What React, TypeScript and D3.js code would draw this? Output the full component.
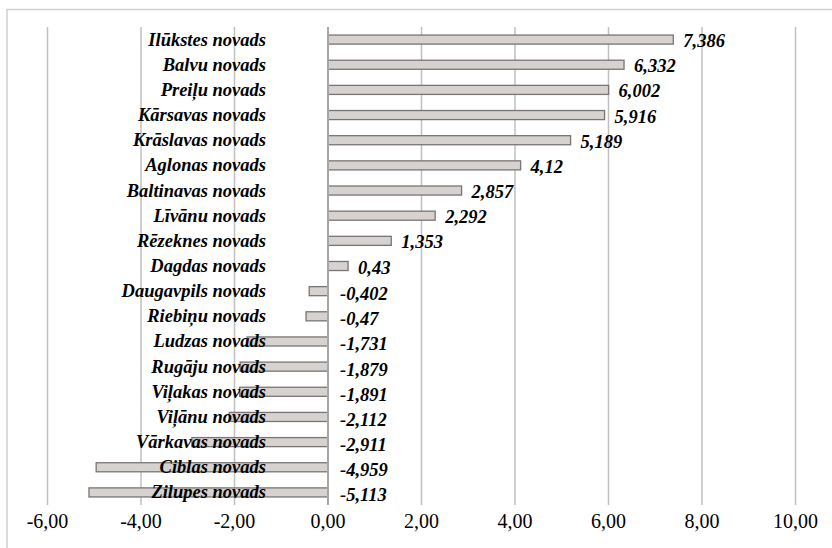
import React from "react";
import * as d3 from "d3";

const categories = [
  "Ilūkstes novads", "Balvu novads", "Preiļu novads", "Kārsavas novads", "Krāslavas novads",
  "Aglonas novads", "Baltinavas novads", "Līvānu novads", "Rēzeknes novads", "Dagdas novads",
  "Daugavpils novads", "Riebiņu novads", "Ludzas novads", "Rugāju novads", "Viļakas novads",
  "Viļānu novads", "Vārkavas novads", "Ciblas novads", "Zilupes novads",
];
const values = [
  7.386, 6.332, 6.002, 5.916, 5.189, 4.12, 2.857, 2.292, 1.353, 0.43,
  -0.402, -0.47, -1.731, -1.879, -1.891, -2.112, -2.911, -4.959, -5.113,
];
const valueLabels = [
  "7,386", "6,332", "6,002", "5,916", "5,189", "4,12", "2,857", "2,292", "1,353", "0,43",
  "-0,402", "-0,47", "-1,731", "-1,879", "-1,891", "-2,112", "-2,911", "-4,959", "-5,113",
];
const tickValues = [-6, -4, -2, 0, 2, 4, 6, 8, 10];
const tickLabels = ["-6,00", "-4,00", "-2,00", "0,00", "2,00", "4,00", "6,00", "8,00", "10,00"];

const W = 832;
const H = 548;
const plot = { left: 47.5, right: 795.5, top: 27, bottom: 505 };

export default function App() {
  const x = d3.scaleLinear().domain([-6, 10]).range([plot.left, plot.right]);
  const y = d3
    .scaleBand<string>()
    .domain(categories)
    .range([plot.top, plot.bottom])
    .paddingInner(0.64)
    .paddingOuter(0.32);
  const serif = "'Liberation Serif', 'Times New Roman', serif";
  const x0 = x(0);
  return (
    <svg
      width={W}
      height={H}
      style={{ position: "absolute", left: 0, top: 0, background: "#fff" }}
    >
      <rect x={7} y={9.5} width={W} height={H} fill="#fff" stroke="#d0d0d0" strokeWidth={1.5} />
      {tickValues.map((t, i) =>
        t === 0 ? null : (
          <line key={"g" + i} x1={x(t)} x2={x(t)} y1={plot.top} y2={plot.bottom} stroke="#c0c0c0" strokeWidth={1.5} />
        )
      )}
      {tickValues.map((t, i) => (
        <text
          key={"t" + i}
          x={x(t)}
          y={528}
          textAnchor="middle"
          fontFamily={serif}
          fontSize={20}
          fill="#000"
        >
          {tickLabels[i]}
        </text>
      ))}
      {categories.map((c, i) => {
        const v = values[i];
        const by = y(c)!;
        const bh = y.bandwidth();
        return (
          <rect
            key={"b" + i}
            x={Math.min(x(v), x0)}
            y={by}
            width={Math.abs(x(v) - x0)}
            height={bh}
            fill="#d6d2cf"
            stroke="#7a7574"
            strokeWidth={1.3}
          />
        );
      })}
      <line x1={x0} x2={x0} y1={plot.top} y2={plot.bottom} stroke="#a6a6a6" strokeWidth={2} />
      {categories.map((c, i) => {
        const cy = y(c)! + y.bandwidth() / 2;
        return (
          <text
            key={"c" + i}
            x={266}
            y={cy + 6}
            textAnchor="end"
            fontFamily={serif}
            fontSize={18.5}
            fontWeight="bold"
            fontStyle="italic"
            fill="#000"
          >
            {c}
          </text>
        );
      })}
      {categories.map((c, i) => {
        const v = values[i];
        const cy = y(c)! + y.bandwidth() / 2;
        const lx = v >= 0 ? x(v) + 10 : x0 + 12;
        return (
          <text
            key={"v" + i}
            x={lx}
            y={cy + (v >= 0 ? 7.5 : 9)}
            textAnchor="start"
            fontFamily={serif}
            fontSize={18.5}
            fontWeight="bold"
            fontStyle="italic"
            fill="#000"
          >
            {valueLabels[i]}
          </text>
        );
      })}
    </svg>
  );
}
